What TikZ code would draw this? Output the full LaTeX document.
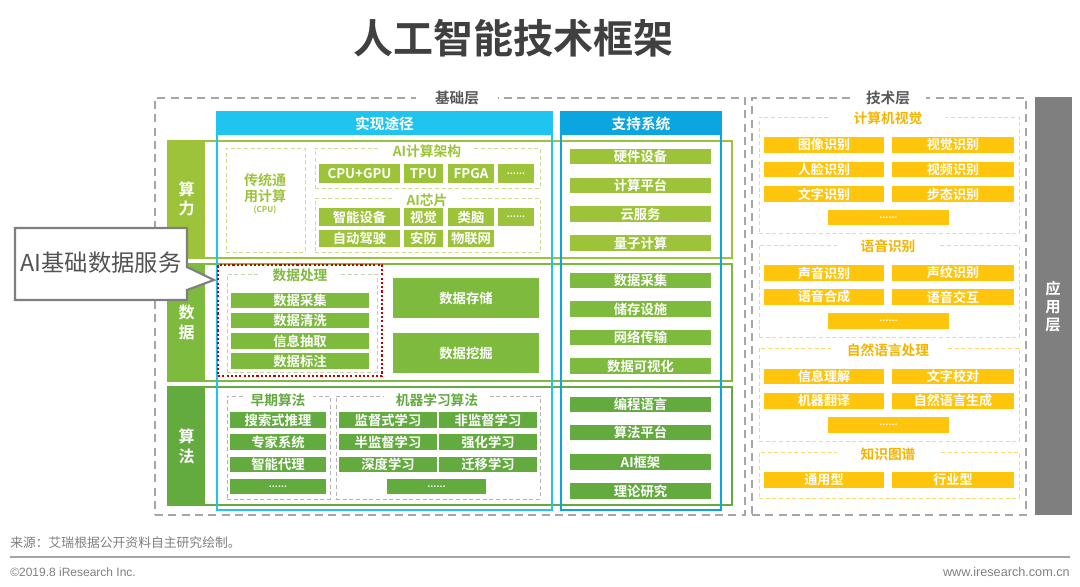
\documentclass[tikz,border=0pt]{standalone}
\usepackage{fontspec}
\setmainfont{Noto Sans CJK SC}[BoldFont={Noto Sans CJK SC Bold}]
\newfontfamily\latinfont{Liberation Sans}
\definecolor{cA}{HTML}{9DC33B}
\definecolor{cB}{HTML}{7EBA3D}
\definecolor{cC}{HTML}{63AA3F}
\definecolor{cAl}{HTML}{C9DE8F}
\definecolor{cBl}{HTML}{BFD7A4}
\definecolor{cCl}{HTML}{B4B4B4}
\definecolor{cyanA}{HTML}{1FC4EF}
\definecolor{cyanB}{HTML}{0BA6E0}
\definecolor{gold}{HTML}{FFC40C}
\definecolor{goldt}{HTML}{F5B400}
\definecolor{goldl}{HTML}{FBD96A}
\definecolor{layg}{HTML}{A6A6A6}
\definecolor{laytxt}{HTML}{595959}
\definecolor{appg}{HTML}{7F7F7F}
\definecolor{redd}{HTML}{C00000}
\definecolor{ttl}{HTML}{404040}
\newcommand\mybox[7]{\node[#6, minimum width={(#4-#2)*0.75pt}, minimum height={(#5-#3)*0.75pt}] (#1) at ({(#2+#4)/2},{(#3+#5)/2}) {#7};}
\begin{document}
\begin{tikzpicture}[x=0.75pt,y=-0.75pt,
  bx/.style={rectangle, inner sep=0pt, outer sep=0pt, align=center},
  itfont/.style={font=\bfseries\fontsize{10}{11}\selectfont},
  itA/.style={bx, fill=cA, text=white, itfont},
  itB/.style={bx, fill=cB, text=white, itfont},
  itC/.style={bx, fill=cC, text=white, itfont},
  itY/.style={bx, fill=gold, text=white, font=\bfseries\fontsize{9.8}{11}\selectfont},
  dots/.style={font=\bfseries\fontsize{7}{8}\selectfont},
  dsh/.style={bx, line width=0.75pt, dash pattern=on 3pt off 2pt},
  ttlbox/.style={fill=white, inner xsep=9pt, inner ysep=0.5pt, font=\bfseries\fontsize{10.3}{12}\selectfont},
  rowbox/.style={bx, line width=1.1pt},
  labbox/.style={bx, text=white, font=\bfseries\fontsize{12}{15}\selectfont},
  colbox/.style={bx, line width=1.1pt},
  hdr/.style={bx, text=white, font=\bfseries\fontsize{11}{12}\selectfont},
  layer/.style={bx, draw=layg, line width=1.1pt, dash pattern=on 6pt off 4pt},
  laylab/.style={fill=white, inner xsep=14pt, inner ysep=1pt, text=laytxt, font=\bfseries\fontsize{11}{12}\selectfont}
]
\useasboundingbox (0,0) rectangle (1080,586);

% title
\node[text=ttl, font=\bfseries\fontsize{30}{34}\selectfont] (title) at (513,38) {人工智能技术框架};

% layers
\mybox{base}{155}{98}{745}{515}{layer}{}
\node[laylab] (baselab) at (457,98) {基础层};
\mybox{tech}{752}{98}{1026}{515}{layer}{}
\node[laylab, inner xsep=12pt] (techlab) at (888,98) {技术层};
\mybox{app}{1035}{97}{1072}{515}{bx, fill=appg, text=white, font=\bfseries\fontsize{11.5}{14}\selectfont}{}
\node[text=white, align=center, font=\bfseries\fontsize{11.5}{13.5}\selectfont] (applab) at (1053,307) {应\\用\\层};

% rows
\mybox{rowA}{168}{141}{732}{258}{rowbox, draw=cA}{}
\mybox{labA}{168}{141}{205}{258}{labbox, fill=cA}{}
\node[labbox, font=\bfseries\fontsize{12}{14}\selectfont] (labAt) at (186.5,199) {算\\力};
\mybox{rowB}{168}{264}{732}{381}{rowbox, draw=cB}{}
\mybox{labB}{168}{264}{205}{381}{labbox, fill=cB}{数\\据}
\mybox{rowC}{168}{387}{732}{505}{rowbox, draw=cC}{}
\mybox{labC}{168}{387}{205}{505}{labbox, fill=cC}{算\\法}

% columns
\mybox{colR}{217}{112}{552}{510}{colbox, draw=cyanA}{}
\mybox{hdrR}{217}{112}{552}{135}{hdr, fill=cyanA}{实现途径}
\mybox{colS}{561}{112}{721}{510}{colbox, draw=cyanB}{}
\mybox{hdrS}{561}{112}{721}{135}{hdr, fill=cyanB}{支持系统}

% ---- row A content
\mybox{cpuBox}{226}{148}{305}{252}{dsh, draw=cAl}{}
\node[text=cA, align=center, font=\bfseries\fontsize{10.5}{12.5}\selectfont] (cpuT) at (265,188) {传统通\\用计算};
\node[text=cA, font=\bfseries\fontsize{6}{7}\selectfont] (cpuS) at (265,210) {(CPU)};
\mybox{archBox}{315}{148}{540}{188}{dsh, draw=cAl}{}
\node[ttlbox, text=cA] (archT) at (427,151) {AI计算架构};
\mybox{a1}{319}{164}{400}{183}{itA}{CPU+GPU}
\mybox{a2}{404}{164}{443}{183}{itA}{TPU}
\mybox{a3}{448}{164}{494}{183}{itA}{FPGA}
\mybox{a4}{498}{164}{534}{183}{itA, dots}{......}
\mybox{chipBox}{315}{198}{540}{252}{dsh, draw=cAl}{}
\node[ttlbox, text=cA] (chipT) at (427,200) {AI芯片};
\mybox{b1}{319}{208}{400}{226}{itA}{智能设备}
\mybox{b2}{404}{208}{443}{226}{itA}{视觉}
\mybox{b3}{448}{208}{494}{226}{itA}{类脑}
\mybox{b4}{498}{208}{534}{226}{itA, dots}{......}
\mybox{b5}{319}{230}{400}{247}{itA}{自动驾驶}
\mybox{b6}{404}{230}{443}{247}{itA}{安防}
\mybox{b7}{448}{230}{494}{247}{itA}{物联网}
\mybox{sA1}{570}{149}{711}{164}{itA}{硬件设备}
\mybox{sA2}{570}{178}{711}{193}{itA}{计算平台}
\mybox{sA3}{570}{206}{711}{222}{itA}{云服务}
\mybox{sA4}{570}{235}{711}{251}{itA}{量子计算}

% ---- row B content
\mybox{procBox}{227}{274}{377}{372}{dsh, draw=cBl}{}
\node[ttlbox, text=cB] (procT) at (300,275) {数据处理};
\mybox{p1}{231}{293}{369}{308}{itB}{数据采集}
\mybox{p2}{231}{313}{369}{328}{itB}{数据清洗}
\mybox{p3}{231}{333}{369}{349}{itB}{信息抽取}
\mybox{p4}{231}{353}{369}{369}{itB}{数据标注}
\mybox{store}{393}{278}{539}{318}{itB}{数据存储}
\mybox{mine}{393}{333}{539}{373}{itB}{数据挖掘}
\mybox{sB1}{570}{273}{711}{288}{itB}{数据采集}
\mybox{sB2}{570}{301}{711}{317}{itB}{储存设施}
\mybox{sB3}{570}{330}{711}{345}{itB}{网络传输}
\mybox{sB4}{570}{358}{711}{374}{itB}{数据可视化}
\mybox{redBox}{218}{265}{382}{376}{bx, draw=redd, line width=2pt, dash pattern=on 1.6pt off 1.6pt}{}

% ---- row C content
\mybox{earlyBox}{227}{396}{330}{499}{dsh, draw=cCl}{}
\node[ttlbox, text=cC, inner xsep=6pt] (earlyT) at (278,400) {早期算法};
\mybox{e1}{230}{412}{326}{428}{itC}{搜索式推理}
\mybox{e2}{230}{434}{326}{450}{itC}{专家系统}
\mybox{e3}{230}{457}{326}{472}{itC}{智能代理}
\mybox{e4}{230}{479}{326}{494}{itC, dots}{......}
\mybox{mlBox}{336}{396}{540}{499}{dsh, draw=cCl}{}
\node[ttlbox, text=cC] (mlT) at (437,400) {机器学习算法};
\mybox{m1}{339}{412}{437}{428}{itC}{监督式学习}
\mybox{m2}{439}{412}{537}{428}{itC}{非监督学习}
\mybox{m3}{339}{434}{437}{450}{itC}{半监督学习}
\mybox{m4}{439}{434}{537}{450}{itC}{强化学习}
\mybox{m5}{339}{457}{437}{472}{itC}{深度学习}
\mybox{m6}{439}{457}{537}{472}{itC}{迁移学习}
\mybox{m7}{387}{479}{486}{494}{itC, dots}{......}
\mybox{sC1}{570}{397}{711}{412}{itC}{编程语言}
\mybox{sC2}{570}{425}{711}{440}{itC}{算法平台}
\mybox{sC3}{570}{454}{711}{470}{itC}{AI框架}
\mybox{sC4}{570}{483}{711}{499}{itC}{理论研究}

% ---- tech layer
\mybox{cvBox}{759}{117}{1019}{233}{dsh, draw=goldl}{}
\node[ttlbox, text=goldt, inner xsep=18pt] (cvT) at (888,118) {计算机视觉};
\mybox{v1}{764}{137}{884}{153}{itY}{图像识别}
\mybox{v2}{892}{137}{1014}{153}{itY}{视觉识别}
\mybox{v3}{764}{162}{884}{177}{itY}{人脸识别}
\mybox{v4}{892}{162}{1014}{177}{itY}{视频识别}
\mybox{v5}{764}{186}{884}{202}{itY}{文字识别}
\mybox{v6}{892}{186}{1014}{202}{itY}{步态识别}
\mybox{v7}{828}{210}{949}{225}{itY, dots}{......}
\mybox{spBox}{759}{245}{1019}{337}{dsh, draw=goldl}{}
\node[ttlbox, text=goldt, inner xsep=18pt] (spT) at (888,246) {语音识别};
\mybox{w1}{764}{265}{884}{281}{itY}{声音识别}
\mybox{w2}{892}{265}{1014}{281}{itY}{声纹识别}
\mybox{w3}{764}{289}{884}{305}{itY}{语音合成}
\mybox{w4}{892}{289}{1014}{305}{itY}{语音交互}
\mybox{w5}{828}{313}{949}{329}{itY, dots}{......}
\mybox{nlpBox}{759}{348}{1019}{441}{dsh, draw=goldl}{}
\node[ttlbox, text=goldt, inner xsep=12pt] (nlpT) at (888,350) {自然语言处理};
\mybox{n1}{764}{369}{884}{384}{itY}{信息理解}
\mybox{n2}{892}{369}{1014}{384}{itY}{文字校对}
\mybox{n3}{764}{393}{884}{409}{itY}{机器翻译}
\mybox{n4}{892}{393}{1014}{409}{itY}{自然语言生成}
\mybox{n5}{828}{417}{949}{433}{itY, dots}{......}
\mybox{kgBox}{759}{452}{1019}{498}{dsh, draw=goldl}{}
\node[ttlbox, text=goldt, inner xsep=18pt] (kgT) at (888,454) {知识图谱};
\mybox{k1}{764}{472}{884}{488}{itY}{通用型}
\mybox{k2}{892}{472}{1014}{488}{itY}{行业型}

% ---- callout
\coordinate (tip) at (214,280);
\draw[draw=appg, fill=white, line width=1.6pt, line join=miter]
  (15,228) -- (187,228) -- (187,267) -- (tip) -- (187,290) -- (187,300) -- (15,300) -- cycle;
\node[text=ttl!90, font=\fontsize{17.5}{20}\selectfont] (callT) at (101,263) {AI基础数据服务};

% ---- footer
\node[anchor=west, text=appg, font=\fontsize{9.6}{11}\selectfont, inner sep=0pt] (src) at (10,543) {来源：艾瑞根据公开资料自主研究绘制。};
\coordinate (fl) at (10,557);
\coordinate (fr) at (1070,557);
\draw[draw=layg, line width=2.2pt] (fl) -- (fr);
\node[anchor=west, text=appg, font=\latinfont\fontsize{9}{11}\selectfont, inner sep=0pt] (copy) at (10,572) {©2019.8 iResearch Inc.};
\node[anchor=east, text=appg, font=\latinfont\fontsize{9.5}{11}\selectfont, inner sep=0pt] (www) at (1070,572) {www.iresearch.com.cn};
\end{tikzpicture}
\end{document}
